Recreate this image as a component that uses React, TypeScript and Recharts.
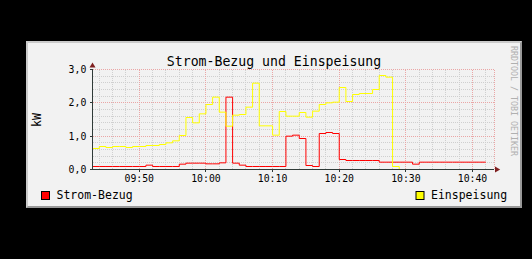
import React from 'react';
import { LineChart, Line, XAxis, YAxis, CartesianGrid, ReferenceDot } from 'recharts';

// one value per minute, 09:43 .. 10:42 (last row only closes the final step)
const startMinute = 9 * 60 + 43;

const bezug = [
  0.09, 0.09, 0.09, 0.09, 0.09, 0.09, 0.09, 0.09, 0.13, 0.09,
  0.09, 0.09, 0.09, 0.16, 0.19, 0.19, 0.19, 0.17, 0.17, 0.2,
  2.17, 0.19, 0.13, 0.09, 0.09, 0.09, 0.09, 0.09, 0.09, 1.0,
  1.03, 0.93, 0.12, 0.09, 1.08, 1.11, 1.08, 0.3, 0.27, 0.27,
  0.27, 0.27, 0.27, 0.22, 0.22, 0.22, 0.22, 0.22, 0.16, 0.22,
  0.22, 0.22, 0.22, 0.22, 0.22, 0.22, 0.22, 0.22, 0.22, 0.22,
];

const einspeisung = [
  0.63, 0.69, 0.66, 0.69, 0.69, 0.66, 0.69, 0.69, 0.72, 0.72,
  0.75, 0.8, 0.86, 1.02, 1.56, 1.4, 1.67, 1.95, 2.17, 1.72,
  1.3, 1.63, 1.65, 1.87, 2.59, 1.31, 1.31, 1.03, 1.74, 1.6,
  1.6, 1.71, 1.57, 1.75, 1.95, 2.0, 2.02, 2.46, 2.04, 2.25,
  2.28, 2.28, 2.4, 2.82, 2.77, 0.09, 0, 0, 0, 0,
  0, 0, 0, 0, 0, 0, 0, 0, 0, 0,
];

const majorTimes = [590, 600, 610, 620, 630, 640];
const minorTimes = [
  584, 586, 588, 592, 594, 596, 598, 602, 604, 606, 608, 612,
  614, 616, 618, 622, 624, 626, 628, 632, 634, 636, 638, 642,
];
const majorValues = [0, 1, 2, 3];
const minorValues = [0.2, 0.4, 0.6, 0.8, 1.2, 1.4, 1.6, 1.8, 2.2, 2.4, 2.6, 2.8];

const series = [
  { key: 'bezug', name: 'Strom-Bezug', color: '#ff0000' },
  { key: 'einspeisung', name: 'Einspeisung', color: '#ffff00' },
];

const data = bezug.map((v, i) => ({ t: startMinute + i, bezug: v, einspeisung: einspeisung[i] }));

const xDomain: [number, number] = [582.98, 643.25];
const mono = '"DejaVu Sans Mono", monospace';
const axisColor = '#2f3a37';
const arrowColor = '#7f1f1f';

const pad = (n: number) => String(n).padStart(2, '0');
const fmtTime = (v: number) => `${pad(Math.floor(v / 60))}:${pad(v % 60)}`;
const fmtKw = (v: number) => v.toFixed(1).replace('.', ',');

const tickStyle = { fontFamily: mono, fontSize: 9.8, fill: '#000' };

// snap the dotted grid to whole pixels like rrdtool does
const crisp = `
.recharts-cartesian-grid line,
.recharts-cartesian-axis-line,
.recharts-cartesian-axis-tick-line { shape-rendering: crispEdges; }
`;

export default function App() {
  return (
    <div style={{ position: 'fixed', left: 0, top: 0, width: 532, height: 259, background: '#000' }}>
      <style>{crisp}</style>
      <div
        style={{
          position: 'absolute', left: 26, top: 41, width: 496, height: 167, boxSizing: 'border-box',
          background: '#f2f2f2', borderTop: '2px solid #cbcbcb', borderLeft: '2px solid #cbcbcb',
          borderRight: '2px solid #999', borderBottom: '2px solid #999',
        }}
      />
      <div style={{ position: 'absolute', left: 0, top: 0 }}>
        <LineChart width={532} height={259} data={data} margin={{ top: 69.5, right: 37.8, bottom: 59.5, left: 0 }}>
          <XAxis xAxisId="minor" dataKey="t" type="number" domain={xDomain} ticks={minorTimes} interval={0} allowDataOverflow hide />
          <YAxis yAxisId="minor" type="number" domain={[0, 3]} ticks={minorValues} interval={0} allowDataOverflow hide />
          <CartesianGrid xAxisId="minor" yAxisId="minor" stroke="#cfcfcf" strokeDasharray="1 1" />
          <CartesianGrid stroke="#eaa6a6" strokeDasharray="1 1" />
          {series.map((s) => (
            <Line
              key={s.key}
              dataKey={s.key}
              name={s.name}
              type="stepAfter"
              stroke={s.color}
              strokeWidth={1}
              dot={false}
              activeDot={false}
              isAnimationActive={false}
            />
          ))}
          <XAxis
            dataKey="t"
            type="number"
            domain={xDomain}
            ticks={majorTimes}
            interval={0}
            allowDataOverflow
            height={30}
            tickFormatter={fmtTime}
            tick={tickStyle}
            tickSize={2}
            tickMargin={4}
            axisLine={{ stroke: axisColor }}
            tickLine={{ stroke: axisColor }}
          />
          <YAxis
            type="number"
            domain={[0, 3]}
            ticks={majorValues}
            interval={0}
            allowDataOverflow
            width={92.5}
            tickFormatter={fmtKw}
            tick={tickStyle}
            tickSize={3}
            tickMargin={3.2}
            axisLine={{ stroke: axisColor }}
            tickLine={{ stroke: axisColor }}
          />
          <ReferenceDot
            x={xDomain[1]}
            y={0}
            r={0}
            ifOverflow="visible"
            shape={(p: any) => (
              <polygon points={`${p.cx + 0.8},${p.cy - 3} ${p.cx + 6},${p.cy} ${p.cx + 0.8},${p.cy + 3}`} fill={arrowColor} />
            )}
          />
          <ReferenceDot
            x={xDomain[0]}
            y={3}
            r={0}
            ifOverflow="visible"
            shape={(p: any) => (
              <polygon points={`${p.cx - 3},${p.cy - 2} ${p.cx},${p.cy - 7} ${p.cx + 3},${p.cy - 2}`} fill={arrowColor} />
            )}
          />
        </LineChart>
      </div>
      <svg width={532} height={259} style={{ position: 'absolute', left: 0, top: 0, pointerEvents: 'none' }}>
        <text x={274} y={65.5} textAnchor="middle" fontFamily={mono} fontSize={13.2} fill="#000">
          Strom-Bezug und Einspeisung
        </text>
        <text
          x={0}
          y={0}
          transform="translate(40.5,120) rotate(-90)"
          textAnchor="middle"
          fontFamily={mono}
          fontSize={11.5}
          fill="#000"
        >
          kW
        </text>
        <text
          x={0}
          y={0}
          transform="translate(511,101) rotate(90)"
          textAnchor="middle"
          fontFamily={mono}
          fontSize={8.3}
          fill="#b0b0b0"
        >
          RRDTOOL / TOBI OETIKER
        </text>
        {series.map((s, i) => {
          const x = i === 0 ? 41 : 415.5;
          return (
            <g key={s.key}>
              <rect x={x + 0.5} y={191.5} width={8} height={8} fill={s.color} stroke="#000" />
              <text x={x + 15.5} y={198.8} fontFamily={mono} fontSize={11.5} fill="#000">
                {s.name}
              </text>
            </g>
          );
        })}
      </svg>
    </div>
  );
}
